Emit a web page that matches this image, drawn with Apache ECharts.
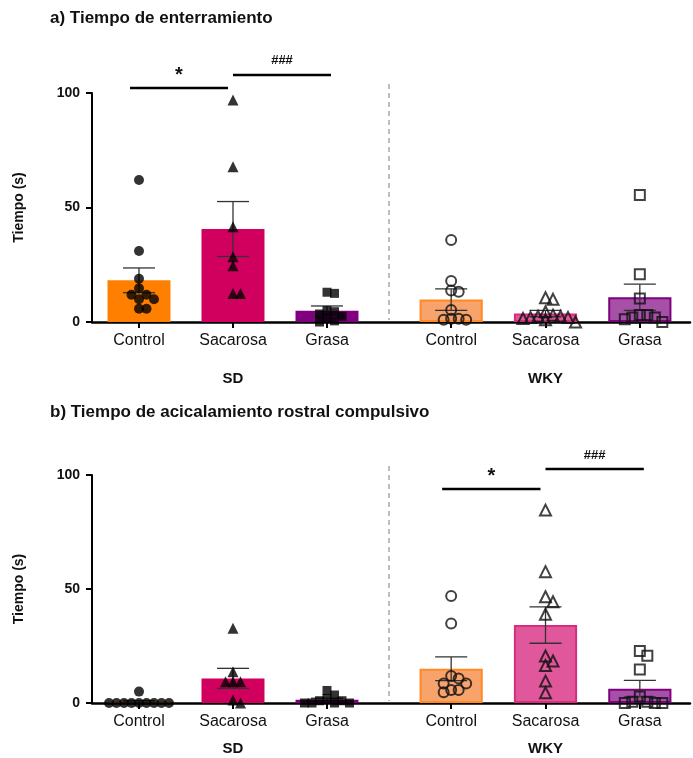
<!DOCTYPE html>
<html>
<head>
<meta charset="utf-8">
<script src="https://cdn.jsdelivr.net/npm/echarts@6/dist/echarts.min.js"></script>
<style>
  html, body { margin: 0; padding: 0; background: #fff; }
  #chart { width: 693px; height: 758px; }
</style>
</head>
<body>
<div id="chart"></div>
<script>
// ---- data ----
const categories = ['Control', 'Sacarosa', 'Grasa'];
const strains = ['SD', 'WKY'];
const panelTitles = ['a) Tiempo de enterramiento', 'b) Tiempo de acicalamiento rostral compulsivo'];
const yTicks = [0, 50, 100];
const yAxisName = 'Tiempo (s)';

// a) burying time (s): means, SEM and individual animals
const buryMeanSD = [18.2, 40.6, 4.9];
const burySemSD = [5.4, 12.0, 2.1];
const buryMeanWKY = [9.8, 3.7, 10.8];
const burySemWKY = [4.7, 1.4, 5.7];
const buryPointsSD = [
  [62.0, 31.0, 18.9, 14.7, 11.9, 11.9, 9.9, 9.9, 5.8, 5.8],
  [96.9, 67.8, 41.6, 28.5, 24.6, 12.5, 12.5],
  [13.0, 12.5, 5.0, 4.5, 3.5, 2.5, 1.5, 0.5, 0]
];
const buryPointsWKY = [
  [35.8, 17.9, 13.8, 13.2, 5.2, 1.4, 1.4, 1.0, 1.0],
  [10.6, 9.9, 4.5, 3.0, 2.5, 2.5, 2.0, 2.0, 1.5, 1.0, 0],
  [55.5, 20.8, 10.3, 3.1, 3.1, 2.0, 2.0, 1.2, 0]
];
// significance marks: strain, compared groups, height (s), symbol
const buryMarks = [
  { strain: 'SD', from: 0, to: 1, y: 102.2, text: '*' },
  { strain: 'SD', from: 1, to: 2, y: 107.9, text: '###' }
];

// b) compulsive rostral grooming time (s)
const groomMeanSD = [0.5, 10.8, 1.4];
const groomSemSD = [0.5, 4.4, 0.7];
const groomMeanWKY = [15.0, 34.2, 6.3];
const groomSemWKY = [5.2, 8.0, 3.6];
const groomPointsSD = [
  [5.0, 0, 0, 0, 0, 0, 0, 0, 0, 0],
  [32.8, 13.7, 9.3, 9.3, 9.3, 1.3, 0],
  [5.5, 3.5, 2.0, 1.0, 1.0, 0, 0, 0, 0]
];
const groomPointsWKY = [
  [46.9, 34.9, 11.8, 10.8, 8.6, 8.6, 5.7, 5.7, 4.7],
  [84.6, 57.6, 46.6, 44.4, 38.9, 20.6, 18.4, 16.4, 9.6, 4.5],
  [22.8, 20.7, 14.7, 2.8, 0.5, 0.5, 0, 0, 0]
];
const groomMarks = [
  { strain: 'WKY', from: 0, to: 1, y: 93.9, text: '*' },
  { strain: 'WKY', from: 1, to: 2, y: 102.6, text: '###' }
];

// ---- styles & layout ----
const FONT = "'Liberation Sans', Arial, sans-serif";
const fillColors = {
  SD: ['#FF8000', '#D1005E', '#800080'],
  WKY: ['#F8A26C', '#E0579B', '#A650A8']
};
const borderColors = {
  SD: ['#FF8000', '#D1005E', '#800080'],
  WKY: ['#FF8A22', '#D62E7E', '#800080']
};
const symbols = ['circle', 'triangle', 'rect'];
const symbolSizes = [10, 11, 9];

const panels = [
  { title: panelTitles[0], titleTop: 5, top: 93, height: 229, nameGap: 49,
    mean: { SD: buryMeanSD, WKY: buryMeanWKY }, sem: { SD: burySemSD, WKY: burySemWKY },
    points: { SD: buryPointsSD, WKY: buryPointsWKY }, marks: buryMarks },
  { title: panelTitles[1], titleTop: 399, top: 475, height: 228, nameGap: 38,
    mean: { SD: groomMeanSD, WKY: groomMeanWKY }, sem: { SD: groomSemSD, WKY: groomSemWKY },
    points: { SD: groomPointsSD, WKY: groomPointsWKY }, marks: groomMarks }
];
const FULL = { left: 92, right: 690 };
const SUB = { SD: { left: 92, width: 282 }, WKY: { left: 404, width: 283 } };

// simple beeswarm: spreads overlapping points sideways (pixel space)
function swarm(values, pxPerUnit, bandPx) {
  const D = 7.5, placed = [];
  return values.map(v => {
    const y = v * pxPerUnit;
    for (let k = 0; k < 60; k++) {
      const off = k === 0 ? 0 : (k % 2 ? 1 : -1) * Math.ceil(k / 2) * D;
      if (placed.every(p => Math.hypot(p[0] - off, p[1] - y) >= D - 0.01)) {
        placed.push([off, y]);
        return off / bandPx;
      }
    }
    return 0;
  });
}

const grid = [], xAxis = [], yAxis = [], series = [], title = [], graphic = [];

panels.forEach((P, pi) => {
  const chartH = 758;
  const bottom = chartH - P.top - P.height;
  title.push({
    text: P.title, left: 45, top: P.titleTop,
    textStyle: { fontFamily: FONT, fontSize: 17, fontWeight: 'bold', color: '#111' }
  });

  // background grid: carries the visible y axis and the full-width baseline
  const gFull = grid.length;
  grid.push({ left: FULL.left, width: FULL.right - FULL.left, top: P.top, bottom: bottom });
  const xFull = xAxis.length;
  xAxis.push({ type: 'value', gridIndex: gFull, min: 0, max: 1,
    axisLine: { show: true, lineStyle: { color: '#000', width: 2.5 } },
    axisTick: { show: false }, axisLabel: { show: false }, splitLine: { show: false } });
  const yFull = yAxis.length;
  yAxis.push({ type: 'value', gridIndex: gFull, min: yTicks[0], max: yTicks[yTicks.length - 1],
    interval: yTicks[1] - yTicks[0],
    name: yAxisName, nameLocation: 'middle', nameGap: 66, nameRotate: 90,
    nameTextStyle: { fontFamily: FONT, fontSize: 14, fontWeight: 'bold', color: '#111' },
    axisLine: { show: true, lineStyle: { color: '#000', width: 2 } },
    axisTick: { show: true, length: 6, lineStyle: { color: '#000', width: 2 } },
    axisLabel: { margin: 12, fontFamily: FONT, fontSize: 14, fontWeight: 'bold', color: '#111' },
    splitLine: { show: false } });
  series.push({ type: 'line', xAxisIndex: xFull, yAxisIndex: yFull, data: [], silent: true });

  strains.forEach(strain => {
    const S = SUB[strain];
    const g = grid.length;
    grid.push({ left: S.left, width: S.width, top: P.top, bottom: bottom });
    const xCat = xAxis.length;
    xAxis.push({ type: 'category', gridIndex: g, data: categories,
      name: strain, nameLocation: 'middle', nameGap: P.nameGap,
      nameTextStyle: { fontFamily: FONT, fontSize: 15, fontWeight: 'bold', color: '#111' },
      axisLine: { show: false },
      axisTick: { show: true, alignWithLabel: true, length: 6, lineStyle: { color: '#000', width: 2 } },
      axisLabel: { margin: 11, fontFamily: FONT, fontSize: 16, color: '#111' } });
    const xVal = xAxis.length;
    xAxis.push({ type: 'value', gridIndex: g, min: -0.5, max: 2.5, show: false });
    const yi = yAxis.length;
    yAxis.push({ type: 'value', gridIndex: g, min: 0, max: 100, show: false });

    const means = P.mean[strain], sems = P.sem[strain];
    // bars
    series.push({
      type: 'bar', xAxisIndex: xCat, yAxisIndex: yi, barWidth: '67%', z: 2,
      data: means.map((m, i) => ({
        value: m,
        itemStyle: { color: fillColors[strain][i], borderColor: borderColors[strain][i],
          borderWidth: strain === 'WKY' ? 2 : 0 }
      }))
    });
    // SEM error bars
    series.push({
      type: 'custom', xAxisIndex: xCat, yAxisIndex: yi, z: 4,
      data: means.map((m, i) => [i, m, sems[i]]),
      renderItem: (params, api) => {
        const x = api.value(0), m = api.value(1), s = api.value(2);
        const top = api.coord([x, m + s]);
        const bot = api.coord([x, Math.max(0, m - s)]);
        const half = api.size([1, 0])[0] * 0.17;
        const st = { stroke: '#333', lineWidth: 1.3 };
        return { type: 'group', children: [
          { type: 'line', shape: { x1: top[0], y1: top[1], x2: bot[0], y2: bot[1] }, style: st },
          { type: 'line', shape: { x1: top[0] - half, y1: top[1], x2: top[0] + half, y2: top[1] }, style: st },
          { type: 'line', shape: { x1: bot[0] - half, y1: bot[1], x2: bot[0] + half, y2: bot[1] }, style: st }
        ] };
      }
    });
    // individual animals
    const pxPerUnit = P.height / 100, band = S.width / 3;
    P.points[strain].forEach((vals, ci) => {
      const offs = swarm(vals, pxPerUnit, band);
      const hollow = strain === 'WKY';
      series.push({
        type: 'scatter', xAxisIndex: xVal, yAxisIndex: yi, z: 5,
        symbol: symbols[ci], symbolSize: symbolSizes[ci] + (hollow && ci === 2 ? 1 : 0),
        itemStyle: hollow
          ? { color: 'rgba(0,0,0,0)', borderColor: '#111', borderWidth: 2 }
          : { color: '#000' },
        data: vals.map((v, k) => [ci + offs[k], v])
      });
    });
    // significance marks
    const marks = P.marks.filter(mk => mk.strain === strain);
    if (marks.length) {
      series.push({
        type: 'custom', xAxisIndex: xVal, yAxisIndex: yi, z: 6, clip: false,
        data: marks.map(mk => [mk.from, mk.to, mk.y]),
        renderItem: (params, api) => {
          const mk = marks[params.dataIndex];
          const a = api.coord([api.value(0), api.value(2)]);
          const b = api.coord([api.value(1), api.value(2)]);
          const shift = mk.text === '*' ? -5 : 4;
          const x1 = a[0] + shift - 4, x2 = b[0] + shift;
          const big = mk.text === '*';
          return { type: 'group', children: [
            { type: 'line', shape: { x1: x1, y1: a[1], x2: x2, y2: a[1] },
              style: { stroke: '#000', lineWidth: 2.5 } },
            { type: 'text', style: { text: mk.text, x: (x1 + x2) / 2, y: a[1] - (big ? 12 : 14),
              align: 'center', verticalAlign: 'middle',
              font: 'bold ' + (big ? 20 : 13) + 'px ' + FONT, fill: '#111' } }
          ] };
        }
      });
    }
  });

  // dashed separator between strains
  const sepX = (SUB.SD.left + SUB.SD.width + SUB.WKY.left) / 2;
  graphic.push({ type: 'line', shape: { x1: sepX, y1: P.top - 9, x2: sepX, y2: P.top + P.height - 2 },
    style: { stroke: '#A8A8A8', lineWidth: 1.5, lineDash: [5, 4] }, z: 1 });
});

const chart = echarts.init(document.getElementById('chart'), null, { renderer: 'canvas' });
chart.setOption({
  animation: false,
  backgroundColor: '#fff',
  title: title,
  grid: grid,
  xAxis: xAxis,
  yAxis: yAxis,
  series: series,
  graphic: graphic
});
</script>
</body>
</html>
